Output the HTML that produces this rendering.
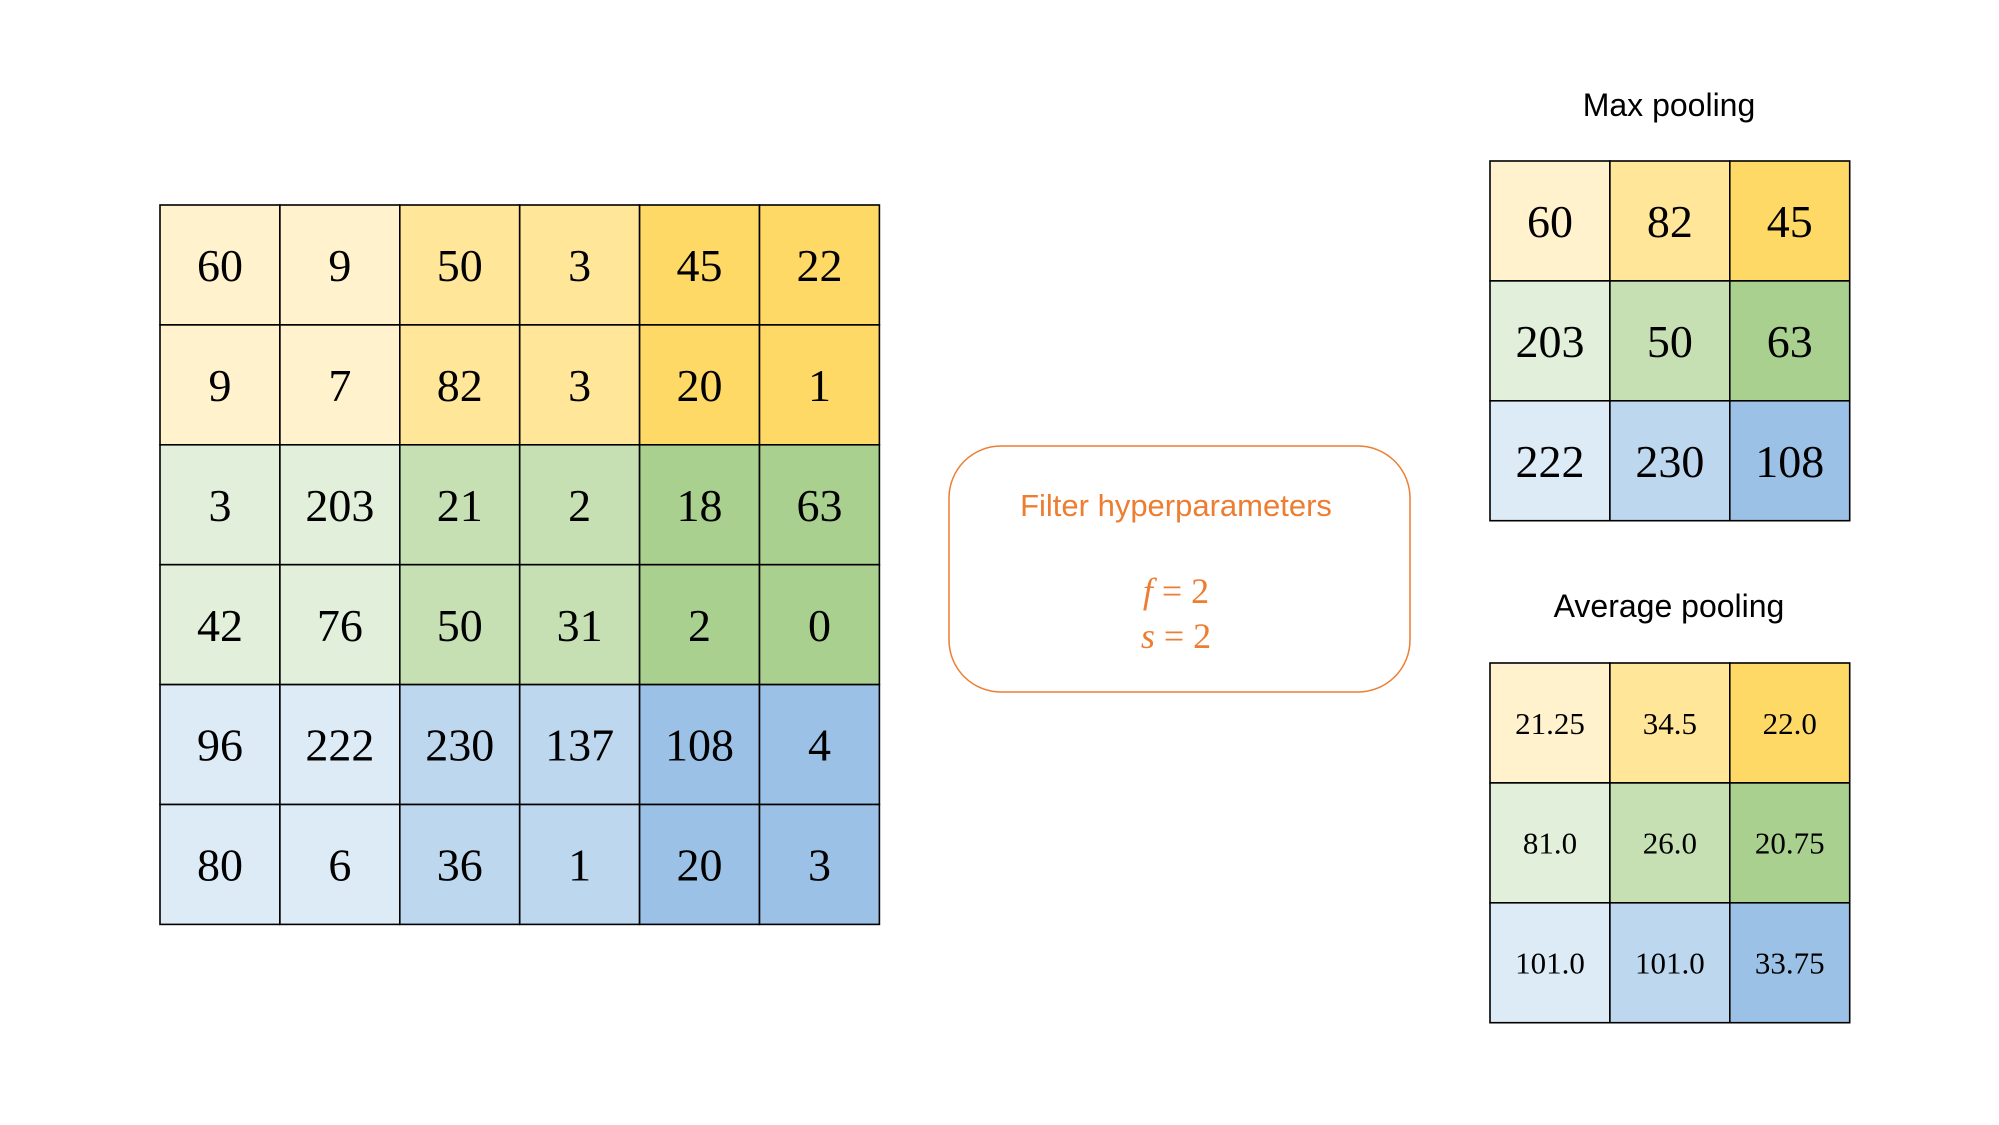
<!DOCTYPE html>
<html><head><meta charset="utf-8"><style>
html,body{margin:0;padding:0;background:#fff;width:1999px;height:1125px;overflow:hidden}
svg{display:block}
</style></head><body>
<svg id="c" width="1999" height="1125" xmlns="http://www.w3.org/2000/svg">
<text x="1669" y="116" text-anchor="middle" font-family="Liberation Sans, sans-serif" font-size="32" fill="#000">Max pooling</text>
<text x="1669" y="617" text-anchor="middle" font-family="Liberation Sans, sans-serif" font-size="32" fill="#000">Average pooling</text>
<g>
<rect x="955" y="447" width="461" height="246" rx="52" fill="#fff" stroke="#ED7D31" stroke-width="1.5" transform="translate(-6,-1)"/>
<text x="1176" y="516" text-anchor="middle" font-family="Liberation Sans, sans-serif" font-size="31" fill="#ED7D31">Filter hyperparameters</text>
<text x="1176" y="603" text-anchor="middle" font-family="Liberation Serif, serif" font-size="36" fill="#ED7D31"><tspan font-style="italic">f</tspan> = 2</text>
<text x="1176" y="648" text-anchor="middle" font-family="Liberation Serif, serif" font-size="36" fill="#ED7D31"><tspan font-style="italic">s</tspan> = 2</text>
</g>
</svg>
<script>
const inputValues=[[60,9,50,3,45,22],[9,7,82,3,20,1],[3,203,21,2,18,63],[42,76,50,31,2,0],[96,222,230,137,108,4],[80,6,36,1,20,3]];
const maxValues=[[60,82,45],[203,50,63],[222,230,108]];
const avgLabels=[["21.25","34.5","22.0"],["81.0","26.0","20.75"],["101.0","101.0","33.75"]];
const palette=[["#FFF2CC","#FFE699","#FFD966"],["#E2EFDA","#C6E0B4","#A9D08E"],["#DDEBF7","#BDD7EE","#9BC2E6"]];
const svg=document.getElementById('c');
const NS='http://www.w3.org/2000/svg';
function grid(vals,x0,y0,cell,block,fs,name){
  const g=document.createElementNS(NS,'g');
  
  
  vals.forEach((row,r)=>row.forEach((v,c)=>{
    const rect=document.createElementNS(NS,'rect');
    rect.setAttribute('x',x0+c*cell);rect.setAttribute('y',y0+r*cell);
    rect.setAttribute('width',cell);rect.setAttribute('height',cell);
    rect.setAttribute('fill',palette[Math.floor(r/block)][Math.floor(c/block)]);
    rect.setAttribute('stroke','#000');rect.setAttribute('stroke-width','1.6');
    
    
    g.appendChild(rect);
    const t=document.createElementNS(NS,'text');
    t.setAttribute('x',x0+c*cell+cell/2);t.setAttribute('y',y0+r*cell+cell/2+fs*0.35);
    t.setAttribute('text-anchor','middle');t.setAttribute('font-size',fs);
    t.setAttribute('font-family','Liberation Serif, serif');
    t.textContent=v;
    
    
    g.appendChild(t);
  }));
  svg.appendChild(g);
}
grid(inputValues,160,205,119.9,2,46,'input-matrix');
grid(maxValues,1490,161,119.9,1,46,'max-pooling-output');
grid(avgLabels,1490,663,119.9,1,31,'average-pooling-output');
</script>
</body></html>
